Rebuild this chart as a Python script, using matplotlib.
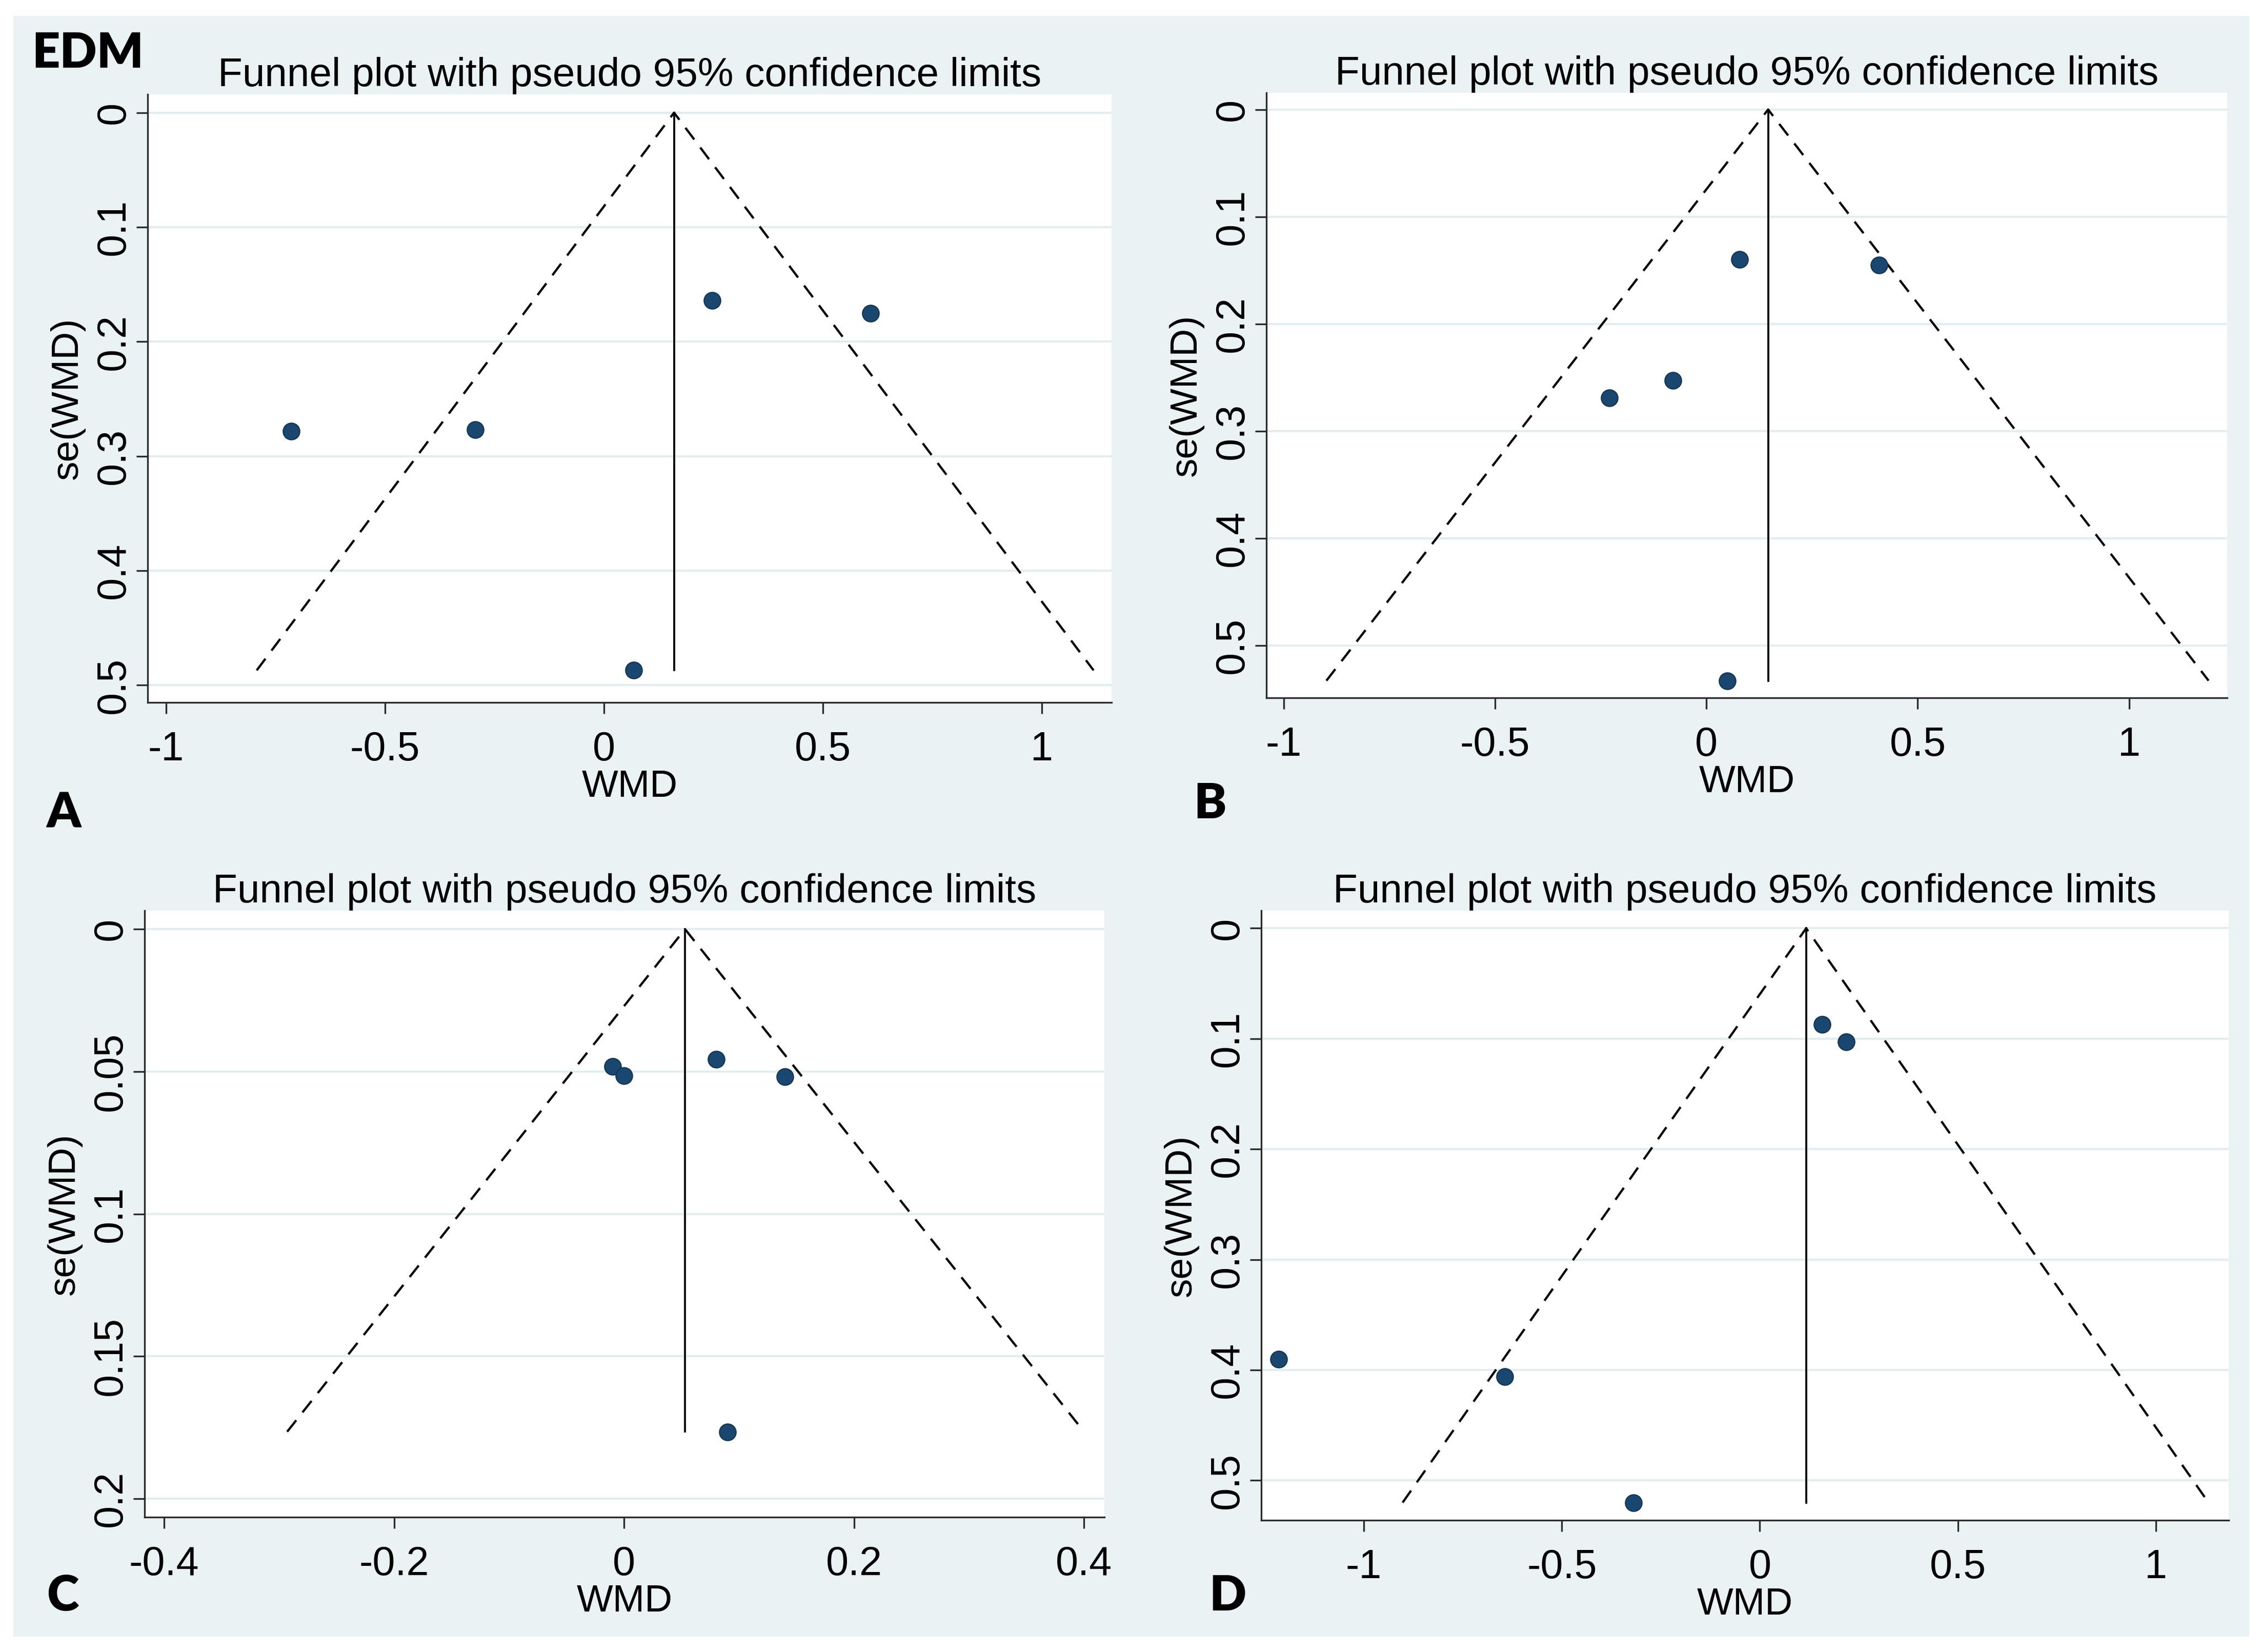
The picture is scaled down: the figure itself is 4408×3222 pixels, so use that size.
import matplotlib
matplotlib.use("Agg")
import matplotlib.pyplot as plt
from matplotlib.patches import Rectangle

FIG_W, FIG_H, DPI = 4408, 3222, 300
BG = "#EAF2F3"
NAVY = "#1A476F"

# study points (WMD, se)
a_wmd = [-0.714, -0.294, 0.247, 0.609, 0.068]
a_se = [0.278, 0.277, 0.164, 0.175, 0.487]
b_wmd = [0.079, 0.409, -0.079, -0.230, 0.049]
b_se = [0.140, 0.145, 0.253, 0.269, 0.533]
c_wmd = [-0.010, 0.000, 0.080, 0.140, 0.090]
c_se = [0.0482, 0.0514, 0.0458, 0.0518, 0.1766]
d_wmd = [0.157, 0.218, -1.215, -0.644, -0.319]
d_se = [0.087, 0.103, 0.390, 0.406, 0.520]

# pooled estimate and pseudo 95% limits at the bottom of each funnel
pooled = [0.160, 0.146, 0.053, 0.117]
se_max = [0.487, 0.533, 0.1765, 0.520]
ci_left = [-0.793, -0.899, -0.293, -0.902]
ci_right = [1.118, 1.188, 0.400, 1.133]

wmd_ticks = [-1, -0.5, 0, 0.5, 1]
wmd_labels = ["-1", "-0.5", "0", "0.5", "1"]
wmd_ticks_c = [-0.4, -0.2, 0, 0.2, 0.4]
wmd_labels_c = ["-0.4", "-0.2", "0", "0.2", "0.4"]
se_ticks = [0, 0.1, 0.2, 0.3, 0.4, 0.5]
se_labels = ["0", "0.1", "0.2", "0.3", "0.4", "0.5"]
se_ticks_c = [0, 0.05, 0.1, 0.15, 0.2]
se_labels_c = ["0", "0.05", "0.1", "0.15", "0.2"]

title = "Funnel plot with pseudo 95% confidence limits"
panel_letters = ["A", "B", "C", "D"]

panels = [
    dict(wmd=a_wmd, se=a_se, xt=wmd_ticks, xl=wmd_labels, yt=se_ticks, yl=se_labels,
         xlim=(-1.042, 1.159), ylim=(0.515, -0.016), box=(288, 184, 2168, 1370)),
    dict(wmd=b_wmd, se=b_se, xt=wmd_ticks, xl=wmd_labels, yt=se_ticks, yl=se_labels,
         xlim=(-1.041, 1.232), ylim=(0.549, -0.0156), box=(2470, 181, 4344, 1361)),
    dict(wmd=c_wmd, se=c_se, xt=wmd_ticks_c, xl=wmd_labels_c, yt=se_ticks_c, yl=se_labels_c,
         xlim=(-0.417, 0.4177), ylim=(0.2065, -0.0065), box=(282, 1776, 2154, 2959)),
    dict(wmd=d_wmd, se=d_se, xt=wmd_ticks, xl=wmd_labels, yt=se_ticks, yl=se_labels,
         xlim=(-1.259, 1.184), ylim=(0.536, -0.016), box=(2460, 1776, 4347, 2965)),
]
letter_pos = [(90, 1615), (2328, 1596), (91, 3141), (2358, 3141)]

plt.rcParams["font.family"] = ["Liberation Sans", "DejaVu Sans"]

fig = plt.figure(figsize=(FIG_W / DPI, FIG_H / DPI), dpi=DPI)
fig.patch.set_facecolor("white")
fig.patches.append(Rectangle((26 / FIG_W, 1 - 3192 / FIG_H), (4387 - 26) / FIG_W,
                             (3192 - 31) / FIG_H, transform=fig.transFigure,
                             facecolor=BG, edgecolor="none", zorder=-10))

for i, p in enumerate(panels):
    l, t, r, b = p["box"]
    ax = fig.add_axes([l / FIG_W, 1 - b / FIG_H, (r - l) / FIG_W, (b - t) / FIG_H])
    ax.set_facecolor("white")
    w_px, h_px = r - l, b - t

    for y in p["yt"]:
        ax.axhline(y, color="#E3EDEF", lw=1.0, zorder=0)

    ax.plot([ci_left[i], pooled[i], ci_right[i]], [se_max[i], 0, se_max[i]],
            color="black", lw=1.05, ls=(0, (6.5, 4.5)), zorder=2)
    ax.plot([pooled[i], pooled[i]], [0, se_max[i]], color="black", lw=0.9, zorder=2)
    ax.plot(p["wmd"], p["se"], "o", ms=7.8, color=NAVY, mec="#12344f", mew=0.5, zorder=3)

    ax.set_xlim(*p["xlim"])
    ax.set_ylim(*p["ylim"])
    ax.set_xticks(p["xt"])
    ax.set_xticklabels(p["xl"])
    ax.set_yticks(p["yt"])
    ax.set_yticklabels(p["yl"], rotation=90, va="center")

    for side in ["top", "right"]:
        ax.spines[side].set_visible(False)
    for side in ["left", "bottom"]:
        ax.spines[side].set_color("#2b2b2b")
        ax.spines[side].set_linewidth(0.8)
    ax.tick_params(axis="x", direction="out", length=5.3, width=0.8, color="#2b2b2b",
                   labelsize=19, pad=8)
    ax.tick_params(axis="y", direction="out", length=5.3, width=0.8, color="#2b2b2b",
                   labelsize=19, pad=1.5)

    ax.set_title(title, fontsize=18.8, pad=1.5)
    ax.set_xlabel("WMD", fontsize=18)
    ax.set_ylabel("se(WMD)", fontsize=18)
    ax.xaxis.set_label_coords(0.5, -130 / h_px)
    ax.yaxis.set_label_coords(-122 / w_px, 0.5)

fig.text(62 / FIG_W, 1 - 132 / FIG_H, "EDM", family="Lato", weight="heavy",
         fontsize=22.8, va="baseline", ha="left")
for letter, (x, y) in zip(panel_letters, letter_pos):
    fig.text(x / FIG_W, 1 - y / FIG_H, letter, family="Lato", weight="heavy",
             fontsize=22.8, va="baseline", ha="left")

fig.savefig("out.png", dpi=DPI, facecolor=fig.get_facecolor())
